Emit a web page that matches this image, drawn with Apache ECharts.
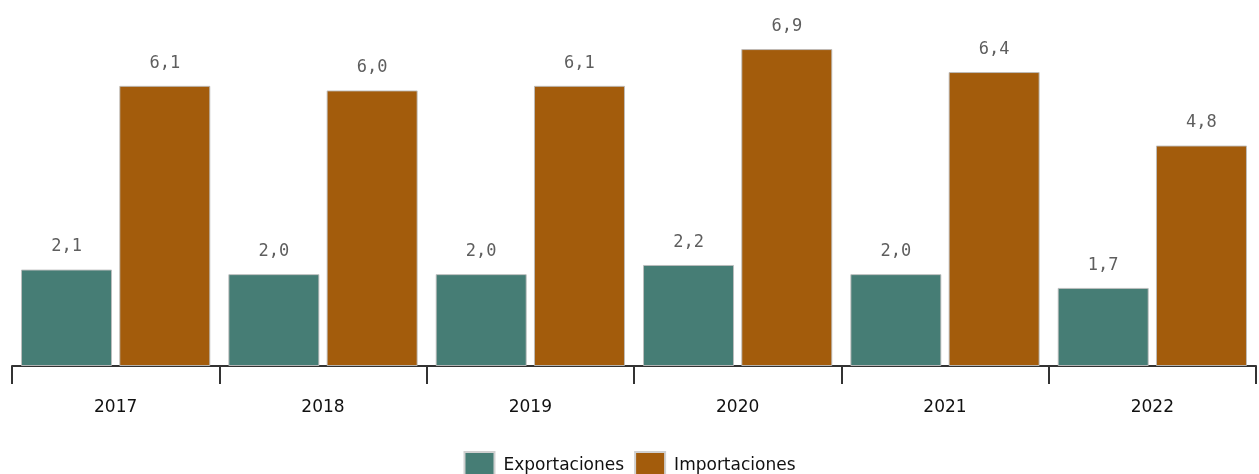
<!DOCTYPE html>
<html><head><meta charset="utf-8">
<script src="https://cdn.jsdelivr.net/npm/echarts@6/dist/echarts.min.js"></script>
<style>html,body{margin:0;padding:0;background:#fff}#c{width:1259px;height:474px}</style>
</head><body><div id="c"></div>
<script>
const categories = ['2017','2018','2019','2020','2021','2022'];
const exportaciones = [2.1, 2.0, 2.0, 2.2, 2.0, 1.7];
const importaciones = [6.1, 6.0, 6.1, 6.9, 6.4, 4.8];
const seriesNames = ['Exportaciones','Importaciones'];

const chart = echarts.init(document.getElementById('c'), null, {renderer:'canvas'});
const labelCfg = {
  show: true, position: 'top', distance: 14,
  color: '#5e5e5e', fontFamily: 'DejaVu Sans Mono', fontSize: 17,
  formatter: p => p.value.toFixed(1).replace('.', ',')
};
chart.setOption({
  animation: false,
  grid: {left: 12, right: 3, top: 44.5, bottom: 108},
  legend: {
    bottom: -12, left: 'center', itemWidth: 30, itemHeight: 28, itemGap: 10,
    textStyle: {fontFamily: 'DejaVu Sans', fontSize: 17, color: '#111', padding:[0,0,0,4]},
    data: seriesNames.map(n => ({name: n, icon: 'rect'})),
    itemStyle: {borderColor: '#d0d0d0', borderWidth: 2}
  },
  xAxis: {
    type: 'category', data: categories,
    axisLine: {lineStyle: {color: '#333', width: 2}},
    axisTick: {show: true, length: 18, lineStyle: {color: '#333', width: 2}},
    axisLabel: {color: '#111', fontFamily: 'DejaVu Sans', fontSize: 17, margin: 33}
  },
  yAxis: {type: 'value', min: 0, max: 7, show: false, splitLine: {show: false}},
  series: [
    {name: seriesNames[0], type: 'bar', data: exportaciones, barWidth: 91, barGap: '8%',
     itemStyle: {color: '#467D75', borderColor: 'rgba(190,190,190,0.9)', borderWidth: 1},
     label: labelCfg},
    {name: seriesNames[1], type: 'bar', data: importaciones, barWidth: 91,
     itemStyle: {color: '#A35C0C', borderColor: 'rgba(190,190,190,0.9)', borderWidth: 1},
     label: labelCfg}
  ]
});
</script></body></html>
